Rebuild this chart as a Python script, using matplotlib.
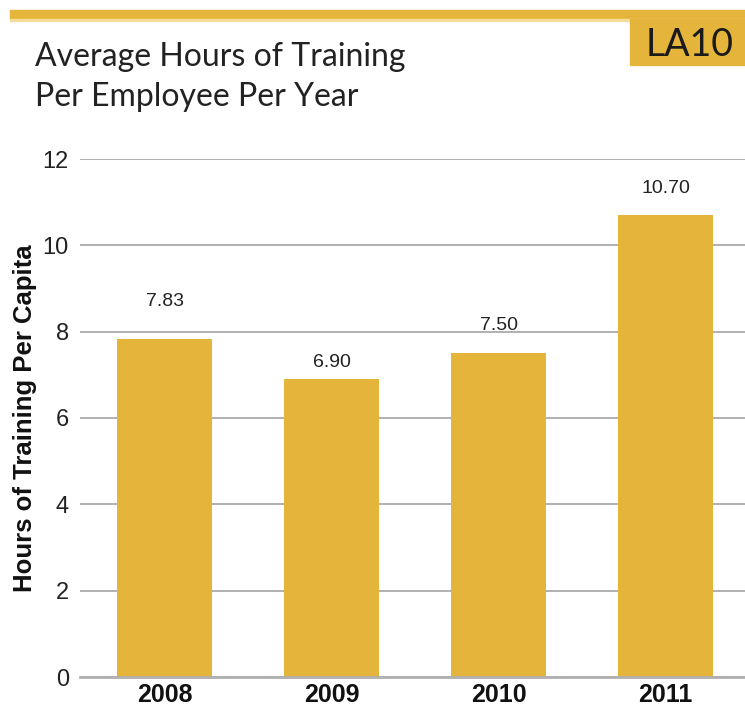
import matplotlib
matplotlib.use("Agg")
import matplotlib.pyplot as plt
from matplotlib.patches import Rectangle

years = ["2008", "2009", "2010", "2011"]
hours = [7.83, 6.90, 7.50, 10.70]
value_labels = ["7.83", "6.90", "7.50", "10.70"]
yticks = [0, 2, 4, 6, 8, 10, 12]

# label lift above each bar top, in points (style only)
label_lift = [27, 12, 20, 19]

GOLD = "#E5B53B"

fig = plt.figure(figsize=(7.45, 7.08), dpi=100)
ax = fig.add_axes([80 / 745, 31 / 708, 665 / 745, 518 / 708])

x = list(range(len(years)))
ax.bar(x, hours, width=0.57, color=GOLD, zorder=2)
ax.set_xlim(-0.506, 3.476)
ax.set_ylim(0, 12)

for xi, v, lab, dy in zip(x, hours, value_labels, label_lift):
    ax.annotate(lab, (xi, v), xytext=(0, dy), textcoords="offset points",
                ha="center", va="center", fontsize=14, color="#222222",
                family="Liberation Sans")

ax.set_yticks(yticks)
ax.set_yticklabels([str(t) for t in yticks], fontsize=17, color="#222222",
                   family="Liberation Sans")
ax.set_xticks(x)
ax.set_xticklabels(years, fontsize=18, fontweight="bold", color="#111111",
                   family="Liberation Sans")
ax.tick_params(axis="both", length=0)
ax.tick_params(axis="y", pad=8)
ax.tick_params(axis="x", pad=4)
ax.yaxis.grid(True, color="#b0b0b0", lw=1.4, zorder=0)
ax.set_axisbelow(True)
for side in ["top", "right", "left"]:
    ax.spines[side].set_visible(False)
ax.spines["bottom"].set_color("#b0b0b0")
ax.spines["bottom"].set_linewidth(2)
ax.set_ylabel("Hours of Training Per Capita", fontsize=18.5, fontweight="bold",
              family="Liberation Sans", color="#111111", labelpad=4)

# header band and code box
fig.patches.append(Rectangle((10 / 745, 1 - 19 / 708), 735 / 745, 9 / 708,
                             transform=fig.transFigure, color=GOLD))
fig.patches.append(Rectangle((10 / 745, 1 - 21 / 708), 735 / 745, 2 / 708,
                             transform=fig.transFigure, color="#F5DC9A"))
fig.patches.append(Rectangle((630 / 745, 1 - 65 / 708), 115 / 745, 46 / 708,
                             transform=fig.transFigure, color=GOLD))
fig.text(690 / 745, 1 - 56 / 708, "LA10", ha="center", va="baseline",
         fontsize=27, color="#1a1a1a", family="Lato")

fig.text(35 / 745, 1 - 66 / 708, "Average Hours of Training",
         ha="left", va="baseline", fontsize=23, color="#222222",
         family="Lato")
fig.text(35 / 745, 1 - 106 / 708, "Per Employee Per Year",
         ha="left", va="baseline", fontsize=23, color="#222222",
         family="Lato")

fig.savefig("out.png", dpi=100)
